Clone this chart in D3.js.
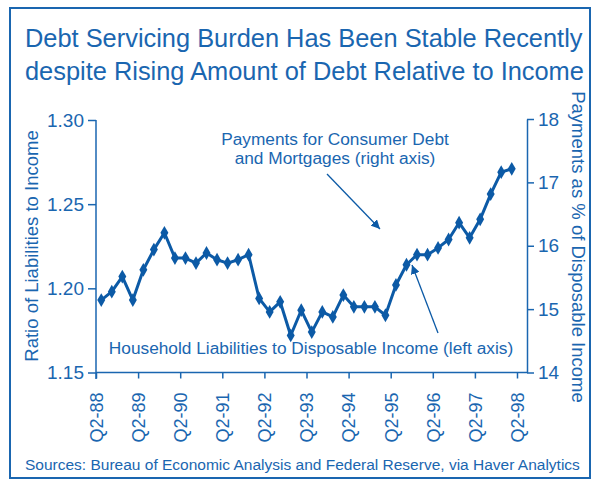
<!DOCTYPE html>
<html lang="en">
<head>
    <meta charset="UTF-8">
    <title>Debt Servicing Burden</title>
    <script src="https://d3js.org/d3.v7.min.js"></script>
    <style>
        body { margin: 0; background: #fff; }
        svg text { font-family: "Liberation Sans", Arial, sans-serif; fill: #1a66b0; }
    </style>
</head>
<body>
    <div id="chart"></div>
    <script>
        // Quarterly data, Q2-88 .. Q1-98 (left axis: ratio of liabilities to income)
        const ratio = [1.193, 1.198, 1.207, 1.193, 1.211, 1.223, 1.233, 1.218, 1.218, 1.215,
                       1.221, 1.217, 1.215, 1.217, 1.220, 1.194, 1.186, 1.192, 1.172, 1.187,
                       1.174, 1.186, 1.183, 1.196, 1.189, 1.189, 1.189, 1.184, 1.202, 1.214,
                       1.220, 1.220, 1.224, 1.229, 1.239, 1.230, 1.241, 1.256, 1.269, 1.271];
        const xTickLabels = ["Q2-88", "Q2-89", "Q2-90", "Q2-91", "Q2-92", "Q2-93",
                             "Q2-94", "Q2-95", "Q2-96", "Q2-97", "Q2-98"];
        const leftTicks = [1.15, 1.20, 1.25, 1.30];
        const rightTicks = [14, 15, 16, 17, 18];

        const blue = "#1a66b0";
        const lineBlue = "#0c5aa6";

        const width = 600, height = 483;
        const svg = d3.select("#chart").append("svg")
            .attr("width", width)
            .attr("height", height);

        // frame
        svg.append("rect")
            .attr("x", 10).attr("y", 8)
            .attr("width", 580).attr("height", 470)
            .attr("fill", "none")
            .attr("stroke", blue)
            .attr("stroke-width", 2);

        // title
        const title = svg.append("text").attr("font-size", 25.4);
        title.append("tspan").attr("x", 25).attr("y", 47).text("Debt Servicing Burden Has Been Stable Recently");
        title.append("tspan").attr("x", 25).attr("y", 80).text("despite Rising Amount of Debt Relative to Income");

        // scales
        const x = d3.scaleLinear().domain([0, 40]).range([96, 517]);
        const yLeft = d3.scaleLinear().domain([1.15, 1.30]).range([372.5, 120]);
        const yRight = d3.scaleLinear().domain([14, 18]).range([372.5, 119]);

        // left axis
        const gl = svg.append("g")
            .attr("transform", "translate(96,0)")
            .call(d3.axisLeft(yLeft).tickValues(leftTicks).tickFormat(d3.format(".2f"))
                .tickSize(8).tickPadding(4).tickSizeOuter(0));

        // right axis
        const gr = svg.append("g")
            .attr("transform", "translate(527,0)")
            .call(d3.axisRight(yRight).tickValues(rightTicks).tickFormat(d3.format("d"))
                .tickSize(7).tickPadding(4).tickSizeOuter(0));

        // bottom axis
        const gb = svg.append("g")
            .attr("transform", "translate(0,372.5)")
            .call(d3.axisBottom(x).tickValues(d3.range(0, 41, 4))
                .tickFormat((d, i) => xTickLabels[i]).tickSize(6).tickSizeOuter(0));
        gb.select(".domain").remove();
        gb.selectAll("text")
            .attr("transform", "rotate(-90)")
            .attr("text-anchor", "end")
            .attr("x", -20)
            .attr("y", 0)
            .attr("dy", "0.35em")
            .attr("font-size", 18);

        svg.append("line")
            .attr("x1", 96).attr("x2", 527)
            .attr("y1", 372.5).attr("y2", 372.5)
            .attr("stroke", blue).attr("stroke-width", 1.5);

        [gl, gr].forEach(g => g.selectAll("text").attr("font-size", 19));
        svg.selectAll(".tick line, .domain").attr("stroke", blue).attr("stroke-width", 1.5);
        svg.selectAll(".tick text").attr("fill", blue).attr("font-family", "Liberation Sans, Arial, sans-serif");
        gl.select(".domain").attr("d", "M0,120V379");

        // axis titles
        svg.append("text")
            .attr("transform", "translate(38,246) rotate(-90)")
            .attr("text-anchor", "middle")
            .attr("font-size", 18.5)
            .text("Ratio of Liabilities to Income");
        svg.append("text")
            .attr("transform", "translate(572,247) rotate(90)")
            .attr("text-anchor", "middle")
            .attr("font-size", 18.5)
            .text("Payments as % of Disposable Income");

        // data line
        const line = d3.line()
            .x((d, i) => x(i + 0.5))
            .y(d => yLeft(d));
        svg.append("path")
            .datum(ratio)
            .attr("d", line)
            .attr("fill", "none")
            .attr("stroke", lineBlue)
            .attr("stroke-width", 3)
            .attr("stroke-linejoin", "round");
        svg.selectAll(".pt")
            .data(ratio)
            .enter().append("path")
            .attr("class", "pt")
            .attr("d", d3.symbol().type(d3.symbolDiamond).size(55))
            .attr("transform", (d, i) => `translate(${x(i + 0.5)},${yLeft(d)})`)
            .attr("fill", lineBlue);

        // annotations
        const defs = svg.append("defs");
        defs.append("marker")
            .attr("id", "arrow")
            .attr("viewBox", "0 0 10 10")
            .attr("refX", 10).attr("refY", 5)
            .attr("markerWidth", 9).attr("markerHeight", 9)
            .attr("markerUnits", "userSpaceOnUse")
            .attr("orient", "auto")
            .append("path")
            .attr("d", "M0,0L10,5L0,10z")
            .attr("fill", lineBlue);

        const a1 = svg.append("text").attr("font-size", 17.3).attr("text-anchor", "middle");
        a1.append("tspan").attr("x", 335).attr("y", 145).text("Payments for Consumer Debt");
        a1.append("tspan").attr("x", 335).attr("y", 164).text("and Mortgages (right axis)");
        svg.append("line")
            .attr("x1", 327).attr("y1", 174).attr("x2", 380).attr("y2", 229)
            .attr("stroke", lineBlue).attr("stroke-width", 1.3)
            .attr("marker-end", "url(#arrow)");

        svg.append("text")
            .attr("x", 311).attr("y", 354)
            .attr("font-size", 17.3)
            .attr("text-anchor", "middle")
            .text("Household Liabilities to Disposable Income (left axis)");
        svg.append("line")
            .attr("x1", 438).attr("y1", 333).attr("x2", 412).attr("y2", 265)
            .attr("stroke", lineBlue).attr("stroke-width", 1.3)
            .attr("marker-end", "url(#arrow)");

        // source
        svg.append("text")
            .attr("x", 25).attr("y", 470)
            .attr("font-size", 15.5)
            .text("Sources: Bureau of Economic Analysis and Federal Reserve, via Haver Analytics");
    </script>
</body>
</html>
